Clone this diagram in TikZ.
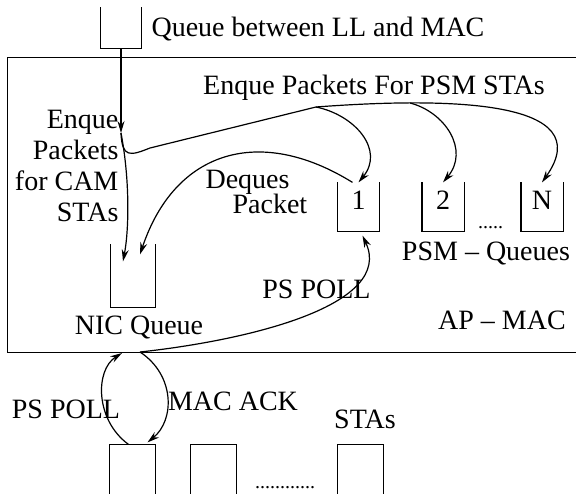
\documentclass[tikz,border=0pt]{standalone}
\usepackage{fontspec}
\setmainfont{Liberation Serif}
\usepackage{tikz}
\usetikzlibrary{arrows.meta,calc}

\tikzset{
	queue/.style={minimum width=41pt, minimum height=48pt, inner sep=0pt, text depth=13pt, font=\fontsize{28}{31}\selectfont},
	sta/.style={minimum width=45pt, minimum height=70pt, inner sep=0pt},
	lbl/.style={inner sep=0pt, font=\fontsize{28}{31}\selectfont},
	dotrow/.style={inner sep=0pt, font=\fontsize{20}{22}\selectfont},
}

\begin{document}
\begin{tikzpicture}[x=1pt, y=-1pt, line width=1.2pt, >={Stealth[length=12pt,width=7pt,inset=4pt]}]
	\useasboundingbox (0,0) rectangle (576,493);
	% the AP and its queues
	\node[draw, anchor=north west, minimum width=575pt, minimum height=295pt, inner sep=0pt] (apmac) at (7,57) {};
	\node[queue, minimum width=40pt, minimum height=40pt] (llq) at (121,28) {};
	\node[queue, minimum width=44pt, minimum height=62pt] (nicq) at (133,276) {};
	\node[queue] (psm1) at (358.5,207) {1};
	\node[queue] (psm2) at (443,207) {2};
	\node[queue] (psmN) at (542,207) {N};
	\foreach \q in {llq, nicq, psm1, psm2, psmN}
		\draw (\q.north west) |- (\q.south east) -- (\q.north east);
	% stations
	\node[sta] (sta1) at (132.5,480) {};
	\node[sta] (sta2) at (213.5,480) {};
	\node[sta] (sta3) at (360.5,480) {};
	\foreach \s in {sta1, sta2, sta3}
		\draw (\s.south west) |- (\s.north east) -- (\s.south east);

	% texts
	\node[lbl, anchor=base west] (lltext) at (151,36) {Queue between LL and MAC};
	\node[lbl, anchor=base] (psmtext) at (374,94) {Enque Packets For PSM STAs};
	\node[lbl, anchor=east, align=right] (camtext) at (119,166) {Enque\\Packets\\for CAM\\STAs};
	\node[lbl, anchor=base west] (deqtext) at (205,188) {Deques};
	\node[lbl, anchor=base west] (pkttext) at (232,213) {Packet};
	\node[dotrow, anchor=base] (psmdots) at (490.5,228) {.....};
	\node[lbl, anchor=base] (psmqtext) at (486,260) {PSM \textendash{} Queues};
	\node[lbl, anchor=base] (nictext) at (139,334) {NIC Queue};
	\node[lbl, anchor=base] (aptext) at (502,329) {AP \textendash{} MAC};
	\node[lbl, anchor=base] (polltext) at (316.5,298) {PS POLL};
	\node[lbl, anchor=base] (polltext2) at (66,418) {PS POLL};
	\node[lbl, anchor=base] (acktext) at (233,410) {MAC ACK};
	\node[lbl, anchor=base] (statext) at (365,428) {STAs};
	\node[dotrow, anchor=base] (stadots) at (285,488) {............};

	% connectors
	\coordinate (enq) at (121,133);
	\coordinate (fork) at (316,107);
	\coordinate (fork2) at (410,103);
	\coordinate (apin) at (122,353);
	\coordinate (apout) at (140,352);
	\draw[->] (llq.south) -- (enq);
	\draw[->] (enq) .. controls (130,180) and (129,230) .. ($(nicq.north)+(-10,17)$);
	\draw (enq) .. controls (122,158) and (130,156) .. (150,148) -- (fork);
	\draw[->] (fork) .. controls (450,97) and (600,100) .. (psmN.north);
	\draw[->] (fork) .. controls (355,115) and (385,150) .. (psm1.north);
	\draw[->] (fork2) .. controls (445,112) and (470,150) .. (psm2.north);
	\draw[->] ($(psm1.north)+(-6,0)$) .. controls (260,125) and (175,150) .. ($(nicq.north)+(7,10)$);
	\draw[->] (apout) .. controls (250,340) and (395,305) .. ($(psm1.south)+(4,4)$);
	\draw[->] ($(sta1.north)+(-4,0)$) .. controls (95,420) and (95,370) .. (apin);
	\draw[->] (apout) .. controls (175,375) and (175,420) .. ($(sta1.north)+(15,-2)$);
\end{tikzpicture}
\end{document}
